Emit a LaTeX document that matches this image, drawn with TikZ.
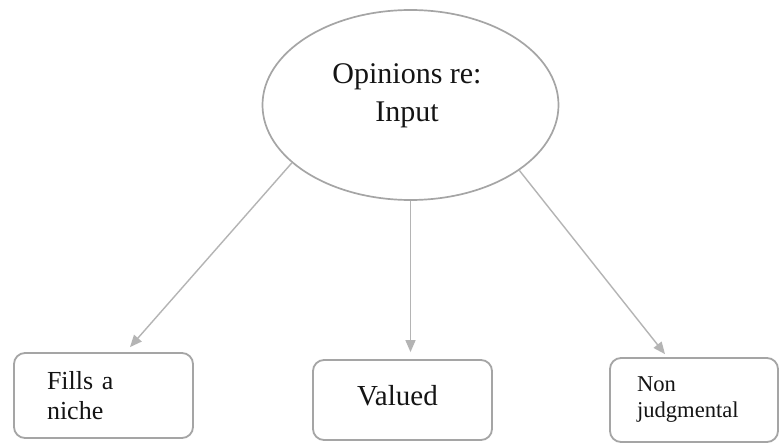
\documentclass[tikz,border=0pt]{standalone}
\usepackage{fontspec}
\setmainfont{Liberation Serif}
\usetikzlibrary{shapes.geometric,arrows.meta,calc}

\definecolor{edgegray}{RGB}{165,165,165}
\definecolor{arrowgray}{RGB}{180,180,180}
\definecolor{inkblack}{RGB}{20,20,20}

\tikzset{
  topic/.style={ellipse, draw=edgegray, line width=1.7pt, fill=white,
    minimum width=296pt, minimum height=190pt, inner sep=0pt},
  leafbox/.style={rectangle, rounded corners=11pt, draw=edgegray, line width=1.8pt,
    fill=white, inner ysep=0pt, text=inkblack},
  link/.style={draw=arrowgray, line width=1.4pt,
    -{Triangle[length=12pt,width=10pt,fill=arrowgray]}},
  words/.style={text=inkblack, inner sep=0pt}
}

\begin{document}
\begin{tikzpicture}[x=1pt,y=-1pt]
  \useasboundingbox (0,0) rectangle (780,444);
  \fill[white] (0,0) rectangle (780,444);

  % central topic
  \node[topic] (e) at (410.5,105) {};
  \node[words, align=center, font=\fontsize{30}{38}\selectfont] (et) at (407,96)
    {Opinions re:\\Input};

  % three outcomes
  \node[leafbox, minimum width=179pt, minimum height=85pt, inner xsep=33pt,
        text width=113pt, align=left, font=\fontsize{26}{30}\selectfont]
        (b1) at (103.5,395.5) {Fills a\\niche};
  \node[leafbox, minimum width=179pt, minimum height=80pt] (b2) at (402.5,400) {};
  \node[words, anchor=base, font=\fontsize{29}{34}\selectfont] (b2t) at (397.5,405) {Valued};
  \node[leafbox, minimum width=168pt, minimum height=84pt, inner xsep=27pt,
        text width=114pt, align=left, font=\fontsize{22.6}{26}\selectfont]
        (b3) at (694,400) {Non\\judgmental};

  % connectors
  \draw[link] (e.206.7) -- ([xshift=26.5pt,yshift=5pt]b1.north);
  \draw[link] (e.south) -- ([yshift=7pt]e.south |- b2.north);
  \draw[link] (e.-31.8) -- ([xshift=-29pt,yshift=3pt]b3.north);
\end{tikzpicture}
\end{document}
